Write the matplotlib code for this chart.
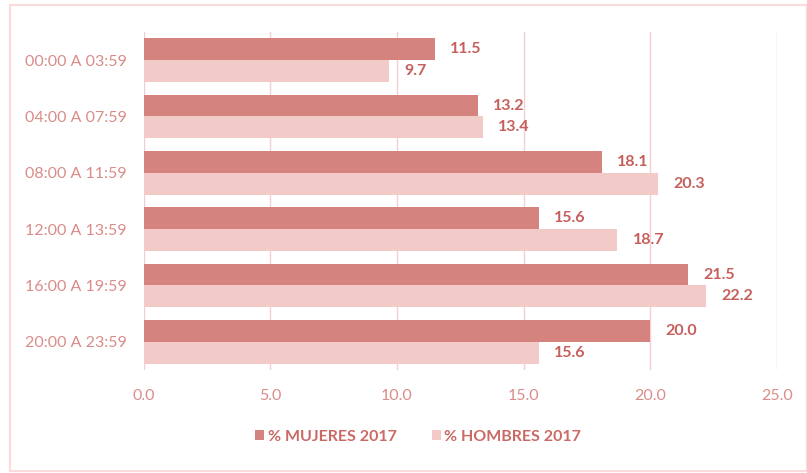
import matplotlib
matplotlib.use("Agg")
import matplotlib.pyplot as plt
import numpy as np
from matplotlib.patches import Rectangle

categories = ["00:00 A 03:59", "04:00 A 07:59", "08:00 A 11:59",
              "12:00 A 13:59", "16:00 A 19:59", "20:00 A 23:59"]
mujeres = [11.5, 13.2, 18.1, 15.6, 21.5, 20.0]
hombres = [9.7, 13.4, 20.3, 18.7, 22.2, 15.6]
series_names = ["% MUJERES 2017", "% HOMBRES 2017"]
xticks = [0, 5, 10, 15, 20, 25]

c_muj = "#D4837F"
c_hom = "#F2CBC8"
c_text = "#D98C89"
c_label = "#C65F5B"
c_grid = "#F4CFCF"

plt.rcParams['font.family'] = ['Lato', 'DejaVu Sans']

fig = plt.figure(figsize=(8.07, 4.73), dpi=100)
ax = fig.add_axes([143.5/807, 1-370/473, (777-143.5)/807, (370-32)/473])

y = np.arange(len(categories))
h = 0.39
b1 = ax.barh(y - h/2, mujeres, height=h, color=c_muj, label=series_names[0], zorder=2)
b2 = ax.barh(y + h/2, hombres, height=h, color=c_hom, label=series_names[1], zorder=2)

for rect, v in zip(b1, mujeres):
    ax.annotate(f"{v:.1f}", (v, rect.get_y() + rect.get_height()/2), xytext=(11, 0),
                textcoords="offset points", va="center", ha="left",
                fontsize=11.5, fontweight="bold", color=c_label)
for rect, v in zip(b2, hombres):
    ax.annotate(f"{v:.1f}", (v, rect.get_y() + rect.get_height()/2), xytext=(11, 0),
                textcoords="offset points", va="center", ha="left",
                fontsize=11.5, fontweight="bold", color=c_label)

ax.set_xlim(0, 25)
ax.set_ylim(len(categories) - 0.5, -0.5)
ax.set_xticks(xticks)
ax.set_xticklabels([f"{t:.1f}" for t in xticks])
ax.set_yticks(y)
ax.set_yticklabels(categories)
ax.tick_params(axis='both', length=0, labelsize=11.5, labelcolor=c_text)
ax.tick_params(axis='x', pad=14)
ax.tick_params(axis='y', pad=12)
ax.grid(axis='x', color=c_grid, linewidth=1, zorder=0)
for s in ax.spines.values():
    s.set_visible(False)

fig.legend(handles=[b1, b2], labels=series_names, loc="center",
           bbox_to_anchor=(418/807, 1-437/473), ncol=2, frameon=False,
           handlelength=0.6, handleheight=0.6, handletextpad=0.2, columnspacing=2.2,
           prop={'size': 11.5, 'weight': 'bold'}, labelcolor="#C96A66")

fig.patches.append(Rectangle((10/807, 2/473), 1 - 10/807, 1 - 7/473,
                             transform=fig.transFigure, fill=False,
                             edgecolor="#FADADA", linewidth=1.5))

fig.savefig("out.png", dpi=100)
